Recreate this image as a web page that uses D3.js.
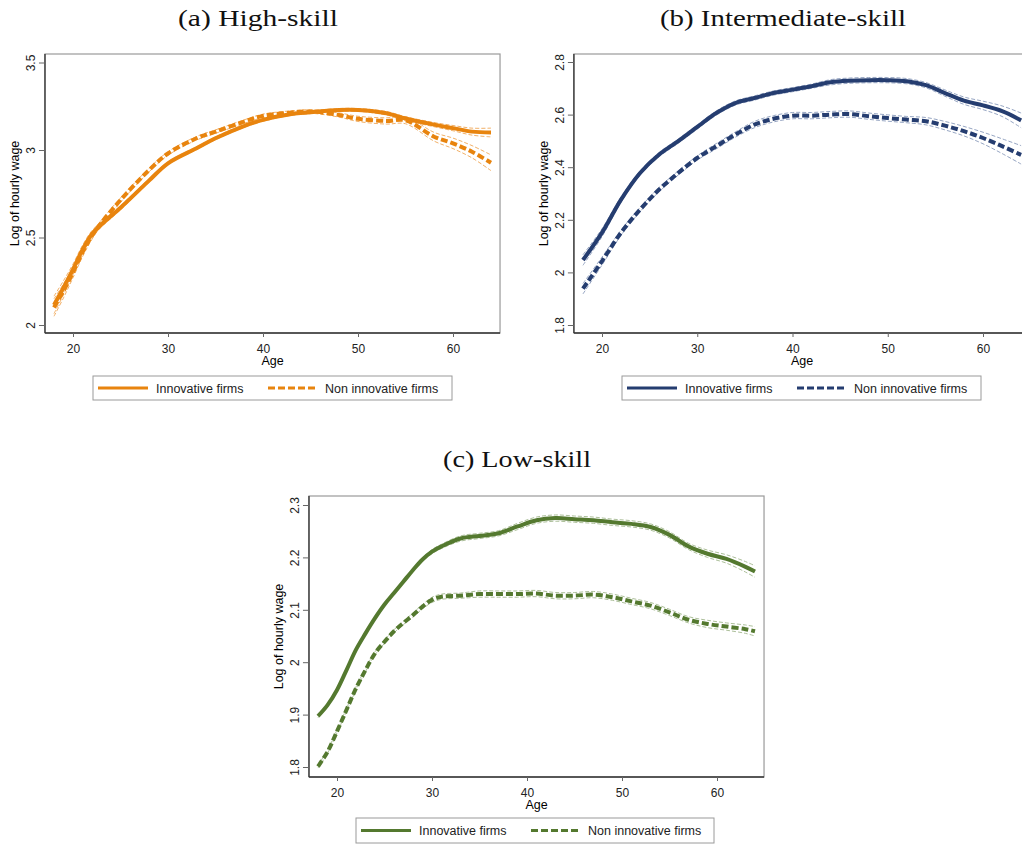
<!DOCTYPE html>
<html>
<head>
<meta charset="utf-8">
<script src="https://cdn.jsdelivr.net/npm/d3@7"></script>
<style>
  body { margin: 0; background: #fff; }
  svg { display: block; }
  .tick text { font-family: "Liberation Sans", Arial, sans-serif; font-size: 12px; fill: #222; }
</style>
</head>
<body>
<div id="chart"></div>
<script>
// ages on the x axis and the smoothed log hourly wage
const xTicks = [20, 30, 40, 50, 60];

const agesHigh = [18, 19, 20, 21, 22, 23, 25, 28, 30, 33, 35, 38, 40, 43, 45, 48, 50, 53, 55, 58, 60, 62, 64];
const highInnov = [2.115, 2.213, 2.318, 2.43, 2.52, 2.575, 2.67, 2.825, 2.924, 3.01, 3.067, 3.137, 3.172, 3.206, 3.216, 3.229, 3.229, 3.21, 3.18, 3.145, 3.125, 3.105, 3.10];
const highNon = [2.10, 2.195, 2.30, 2.415, 2.51, 2.585, 2.714, 2.885, 2.98, 3.067, 3.105, 3.162, 3.195, 3.214, 3.22, 3.20, 3.178, 3.166, 3.17, 3.076, 3.038, 2.99, 2.927];
const highInnovCi = [0.05, 0.04, 0.03, 0.025, 0.02, 0.015, 0.012, 0.01, 0.008, 0.008, 0.008, 0.008, 0.008, 0.008, 0.008, 0.008, 0.008, 0.01, 0.01, 0.012, 0.015, 0.02, 0.025];
const highNonCi = [0.05, 0.04, 0.03, 0.025, 0.02, 0.015, 0.012, 0.01, 0.01, 0.01, 0.01, 0.01, 0.01, 0.01, 0.01, 0.012, 0.015, 0.018, 0.02, 0.025, 0.03, 0.035, 0.045];
const highTicks = [2, 2.5, 3, 3.5];

const agesMid = [18, 20, 22, 24, 26, 28, 30, 32, 34, 36, 38, 40, 42, 44, 46, 48, 50, 52, 54, 56, 58, 60, 62, 64];
const midInnov = [2.047, 2.151, 2.277, 2.378, 2.448, 2.499, 2.553, 2.606, 2.644, 2.663, 2.682, 2.695, 2.708, 2.723, 2.729, 2.731, 2.731, 2.727, 2.712, 2.682, 2.653, 2.635, 2.613, 2.578];
const midNon = [1.938, 2.043, 2.151, 2.239, 2.315, 2.378, 2.435, 2.48, 2.524, 2.562, 2.584, 2.596, 2.596, 2.60, 2.602, 2.594, 2.587, 2.581, 2.575, 2.558, 2.537, 2.511, 2.48, 2.447];
const midInnovCi = [0.02, 0.015, 0.01, 0.008, 0.008, 0.008, 0.008, 0.008, 0.008, 0.008, 0.008, 0.008, 0.008, 0.01, 0.01, 0.01, 0.01, 0.01, 0.01, 0.012, 0.014, 0.016, 0.02, 0.028];
const midNonCi = [0.02, 0.015, 0.01, 0.008, 0.008, 0.008, 0.008, 0.01, 0.01, 0.012, 0.012, 0.012, 0.012, 0.012, 0.012, 0.012, 0.012, 0.012, 0.014, 0.016, 0.018, 0.022, 0.028, 0.035];
const midTicks = [1.8, 2, 2.2, 2.4, 2.6, 2.8];

const agesLow = [18, 19, 20, 21, 22, 23, 24, 25, 26, 27, 28, 29, 30, 31, 33, 35, 37, 39, 41, 43, 45, 47, 49, 51, 53, 55, 57, 59, 61, 63, 64];
const lowInnov = [1.897, 1.918, 1.947, 1.985, 2.024, 2.055, 2.084, 2.11, 2.132, 2.154, 2.176, 2.196, 2.211, 2.221, 2.236, 2.241, 2.246, 2.259, 2.271, 2.275, 2.273, 2.271, 2.267, 2.264, 2.258, 2.243, 2.221, 2.207, 2.197, 2.182, 2.173];
const lowNon = [1.801, 1.829, 1.868, 1.909, 1.95, 1.985, 2.017, 2.039, 2.059, 2.075, 2.09, 2.106, 2.119, 2.125, 2.127, 2.13, 2.13, 2.13, 2.131, 2.127, 2.127, 2.129, 2.124, 2.116, 2.108, 2.095, 2.081, 2.073, 2.068, 2.063, 2.059];
const lowInnovCi = [0.003, 0.003, 0.003, 0.003, 0.003, 0.003, 0.003, 0.003, 0.003, 0.003, 0.003, 0.003, 0.004, 0.004, 0.005, 0.005, 0.005, 0.006, 0.006, 0.006, 0.006, 0.006, 0.006, 0.006, 0.006, 0.006, 0.006, 0.007, 0.008, 0.01, 0.011];
const lowNonCi = [0.003, 0.003, 0.003, 0.003, 0.003, 0.003, 0.003, 0.003, 0.003, 0.003, 0.004, 0.004, 0.005, 0.005, 0.005, 0.006, 0.006, 0.006, 0.006, 0.006, 0.006, 0.006, 0.006, 0.006, 0.006, 0.006, 0.006, 0.007, 0.007, 0.008, 0.009];
const lowTicks = [1.8, 1.9, 2, 2.1, 2.2, 2.3];

const legendLabels = ["Innovative firms", "Non innovative firms"];

const panels = [
    { title: "(a) High-skill", titleX: 258, titleY: 26, titleW: 160, ages: agesHigh, innov: highInnov, non: highNon,
      innovCi: highInnovCi, nonCi: highNonCi, ticks: highTicks, color: "#e8840e", ciColor: "#efa757",
      xr: [73, 453], yd: [2, 3.5], yr: [325, 62.5], top: 54, bottom: 333, legend: [93, 376, 359, 24] },
    { title: "(b) Intermediate-skill", titleX: 783, titleY: 26, titleW: 246, ages: agesMid, innov: midInnov, non: midNon,
      innovCi: midInnovCi, nonCi: midNonCi, ticks: midTicks, color: "#253d70", ciColor: "#8a9bbb",
      xr: [602, 983], yd: [1.8, 2.8], yr: [325, 62], top: 54, bottom: 333, legend: [622, 376, 359, 24] },
    { title: "(c) Low-skill", titleX: 517, titleY: 467, titleW: 148, ages: agesLow, innov: lowInnov, non: lowNon,
      innovCi: lowInnovCi, nonCi: lowNonCi, ticks: lowTicks, color: "#54792f", ciColor: "#a3b88f",
      xr: [337, 717], yd: [1.8, 2.3], yr: [767, 505], top: 496, bottom: 777, legend: [356, 818, 358, 25] }
];

const width = 1022, height = 846;
const svg = d3.select("#chart").append("svg")
    .attr("width", width)
    .attr("height", height);

function drawPanel(p) {
    let x = d3.scaleLinear().domain([20, 60]).range(p.xr);
    let y = d3.scaleLinear().domain(p.yd).range(p.yr);
    let left = x(17.05), right = x(64.95);
    let g = svg.append("g");

    // plot region frame
    g.append("rect")
        .attr("x", left).attr("y", p.top)
        .attr("width", right - left).attr("height", p.bottom - p.top)
        .attr("fill", "none").attr("stroke", "#9a9a9a").attr("stroke-width", 1.2);

    // y axis
    let yAxis = g.append("g")
        .attr("transform", `translate(${left},0)`)
        .call(d3.axisLeft(y).tickValues(p.ticks).tickSize(6).tickPadding(0).tickFormat(d => String(d)));
    yAxis.select(".domain").attr("d", `M0,${p.top}V${p.bottom}`).attr("stroke", "#333").attr("stroke-width", 1.3);
    yAxis.selectAll(".tick line").attr("stroke", "#666");
    yAxis.selectAll(".tick text")
        .attr("x", null).attr("dy", null)
        .attr("text-anchor", "middle")
        .attr("transform", "translate(-9.5,0) rotate(-90)");

    // x axis
    let xAxis = g.append("g")
        .attr("transform", `translate(0,${p.bottom})`)
        .call(d3.axisBottom(x).tickValues(xTicks).tickSize(4).tickPadding(0));
    xAxis.select(".domain").attr("d", `M${left},0H${right}`).attr("stroke", "#333").attr("stroke-width", 1.3);
    xAxis.selectAll(".tick line").attr("stroke", "#666");
    xAxis.selectAll(".tick text").attr("dy", null).attr("y", 20);

    g.append("text")
        .attr("x", (left + right) / 2).attr("y", p.bottom + 32)
        .attr("text-anchor", "middle")
        .style("font-family", "'Liberation Sans', Arial, sans-serif").style("font-size", "12.5px")
        .text("Age");

    g.append("text")
        .attr("transform", `translate(${left - 26},${(p.top + p.bottom) / 2}) rotate(-90)`)
        .attr("text-anchor", "middle")
        .style("font-family", "'Liberation Sans', Arial, sans-serif").style("font-size", "12.5px")
        .text("Log of hourly wage");

    // panel title
    g.append("text")
        .attr("x", p.titleX - p.titleW / 2).attr("y", p.titleY)
        .attr("textLength", p.titleW).attr("lengthAdjust", "spacingAndGlyphs")
        .style("font-family", "'Liberation Serif', 'DejaVu Serif', serif").style("font-size", "23px")
        .style("fill", "#111")
        .text(p.title);

    let line = d3.line()
        .x(d => x(d[0]))
        .y(d => y(d[1]))
        .curve(d3.curveCatmullRom);

    let series = [
        { vals: p.innov, ci: p.innovCi, dash: null },
        { vals: p.non, ci: p.nonCi, dash: "7,3" }
    ];

    // confidence bounds, thin dashed
    series.forEach(s => {
        [-1, 1].forEach(sign => {
            g.append("path")
                .datum(p.ages.map((a, i) => [a, s.vals[i] + sign * s.ci[i]]))
                .attr("d", line)
                .attr("fill", "none")
                .attr("stroke", p.ciColor)
                .attr("stroke-width", 0.9)
                .attr("stroke-dasharray", "4,2");
        });
    });

    series.forEach(s => {
        g.append("path")
            .datum(p.ages.map((a, i) => [a, s.vals[i]]))
            .attr("d", line)
            .attr("fill", "none")
            .attr("stroke", p.color)
            .attr("stroke-width", 4)
            .attr("stroke-dasharray", s.dash);
    });

    // legend
    let [lx, ly, lw, lh] = p.legend;
    let lg = g.append("g").attr("transform", `translate(${lx},${ly})`);
    lg.append("rect")
        .attr("width", lw).attr("height", lh)
        .attr("fill", "#fff").attr("stroke", "#9a9a9a").attr("stroke-width", 1);
    let offsets = [[5, 55, 63], [175, 224, 232]];
    legendLabels.forEach((label, i) => {
        lg.append("line")
            .attr("x1", offsets[i][0]).attr("x2", offsets[i][1])
            .attr("y1", lh / 2).attr("y2", lh / 2)
            .attr("stroke", p.color).attr("stroke-width", 3)
            .attr("stroke-dasharray", i === 0 ? null : "7,3");
        lg.append("text")
            .attr("x", offsets[i][2]).attr("y", lh / 2 + 4.5)
            .style("font-family", "'Liberation Sans', Arial, sans-serif").style("font-size", "12.5px")
            .style("fill", "#222")
            .text(label);
    });
}

panels.forEach(drawPanel);
</script>
</body>
</html>
